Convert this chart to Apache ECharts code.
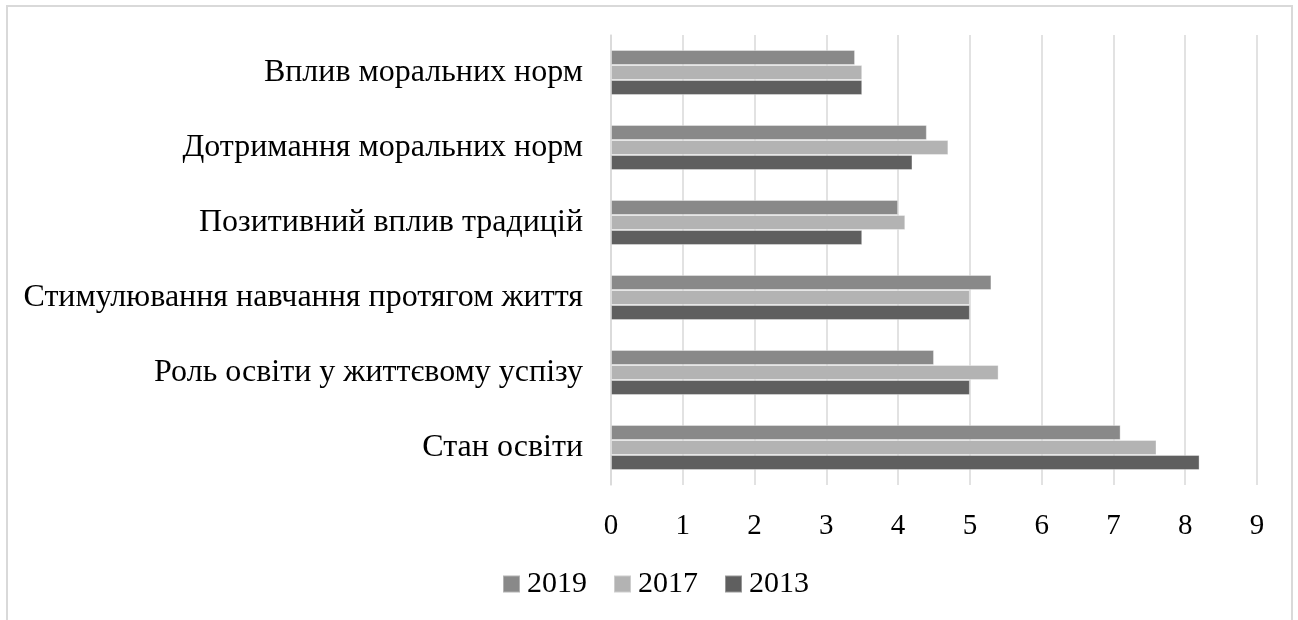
<!DOCTYPE html>
<html>
<head>
<meta charset="utf-8">
<script src="https://cdn.jsdelivr.net/npm/echarts@6/dist/echarts.min.js"></script>
<style>
  html, body { margin: 0; padding: 0; background: #fff; }
  #chart { width: 1298px; height: 620px; }
</style>
</head>
<body>
<div id="chart"></div>
<script>
// Categories listed top to bottom
const categories = [
  'Вплив моральних норм',
  'Дотримання моральних норм',
  'Позитивний вплив традицій',
  'Стимулювання навчання протягом життя',
  'Роль освіти у життєвому успізу',
  'Стан освіти'
];
const years = ['2019', '2017', '2013'];
const values2019 = [3.4, 4.4, 4.0, 5.3, 4.5, 7.1];
const values2017 = [3.5, 4.7, 4.1, 5.0, 5.4, 7.6];
const values2013 = [3.5, 4.2, 3.5, 5.0, 5.0, 8.2];
const xTicks = [0, 1, 2, 3, 4, 5, 6, 7, 8, 9];

const colors = { '2019': '#898989', '2017': '#b3b3b3', '2013': '#5f5f5f' };
const seriesData = { '2019': values2019, '2017': values2017, '2013': values2013 };
const font = "'Liberation Serif', 'DejaVu Serif', serif";

const chart = echarts.init(document.getElementById('chart'), null, { renderer: 'canvas' });

chart.setOption({
  animation: false,
  backgroundColor: '#fff',
  textStyle: { fontFamily: font },
  graphic: [{
    type: 'rect',
    shape: { x: 7, y: 6, width: 1285, height: 640 },
    style: { fill: 'none', stroke: '#d9d9d9', lineWidth: 2 },
    silent: true
  }],
  legend: {
    data: years,
    top: 569,
    left: 502,
    padding: 0,
    icon: 'rect',
    itemWidth: 17,
    itemHeight: 17,
    itemGap: 26,
    textStyle: { fontFamily: font, fontSize: 30, color: '#000', padding: [0, 0, 0, 2] }
  },
  grid: { left: 611, right: 41, top: 35, bottom: 135, containLabel: false },
  xAxis: {
    type: 'value',
    min: xTicks[0],
    max: xTicks[xTicks.length - 1],
    interval: 1,
    axisLine: { show: false },
    axisTick: { show: false },
    axisLabel: { fontFamily: font, fontSize: 29, color: '#000', margin: 27 },
    splitLine: { show: true, lineStyle: { color: '#d9d9d9', width: 1.5 } }
  },
  yAxis: {
    type: 'category',
    data: categories,
    inverse: true,
    axisLine: { show: true, lineStyle: { color: '#d9d9d9', width: 1.5 } },
    axisTick: { show: false },
    axisLabel: { fontFamily: font, fontSize: 32, color: '#000', margin: 28 },
    splitLine: { show: false }
  },
  series: years.map(y => ({
    name: y,
    type: 'bar',
    data: seriesData[y],
    barGap: '0%',
    barCategoryGap: '40%',
    itemStyle: { color: colors[y], borderColor: 'rgba(255,255,255,0.35)', borderWidth: 1 }
  }))
});
</script>
</body>
</html>
